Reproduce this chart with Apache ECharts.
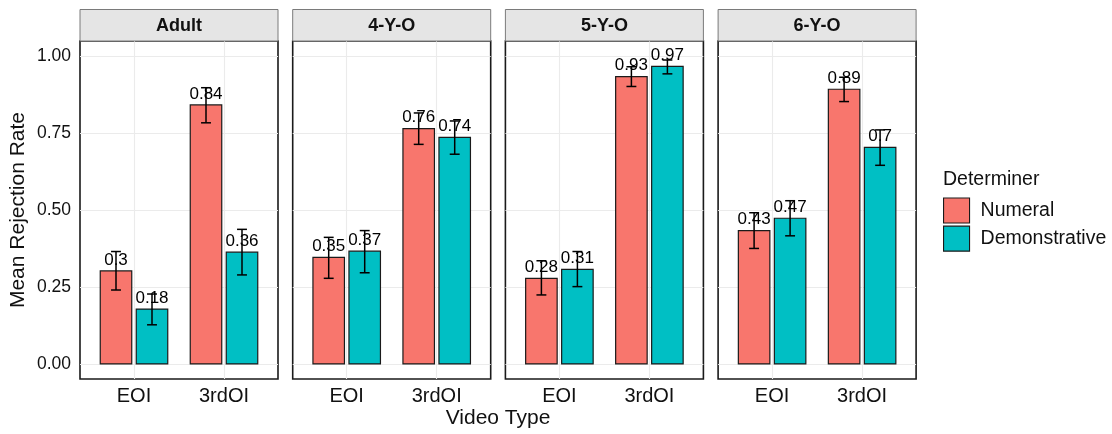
<!DOCTYPE html>
<html>
<head>
<meta charset="utf-8">
<script src="https://cdn.jsdelivr.net/npm/echarts@6/dist/echarts.min.js"></script>
<style>
html,body{margin:0;padding:0;background:#fff;}
#chart{width:1112px;height:434px;}
</style>
</head>
<body>
<div id="chart"></div>
<script>
// ---- data ----
const panels = ['Adult', '4-Y-O', '5-Y-O', '6-Y-O'];
const videoTypes = ['EOI', '3rdOI'];
const determiners = ['Numeral', 'Demonstrative'];
const yTicks = [0, 0.25, 0.5, 0.75, 1];
// per panel: [EOI, 3rdOI]
const numeralMean = [[0.302, 0.841], [0.346, 0.764], [0.278, 0.933], [0.433, 0.892]];
const numeralLow  = [[0.240, 0.783], [0.278, 0.713], [0.224, 0.901], [0.375, 0.852]];
const numeralHigh = [[0.365, 0.897], [0.411, 0.815], [0.335, 0.965], [0.491, 0.931]];
const demoMean = [[0.178, 0.363], [0.366, 0.736], [0.307, 0.966], [0.473, 0.703]];
const demoLow  = [[0.127, 0.289], [0.296, 0.681], [0.251, 0.942], [0.416, 0.645]];
const demoHigh = [[0.227, 0.437], [0.433, 0.789], [0.365, 0.987], [0.530, 0.760]];
const colors = ['#F8766D', '#00BFC4'];

// ---- layout ----
const FONT = '"Liberation Sans", Arial, Helvetica, sans-serif';
const panelLeft0 = 80, panelStep = 212.7, panelW = 198;
const panelTop = 41, panelBottomY = 379;
const stripTop = 9.5;
const dodge = 0.2, barW = 0.35, capW = 0.11;

function fmt(v) { return String(Number(v.toFixed(2))); }

const grids = [], xAxes = [], yAxes = [], series = [], graphics = [];
panels.forEach((p, i) => {
  const left = panelLeft0 + i * panelStep;
  grids.push({
    left: left, top: panelTop, width: panelW, height: panelBottomY - panelTop,
    show: true, borderColor: '#1a1a1a', borderWidth: 1.6, backgroundColor: '#fff'
  });
  xAxes.push({
    type: 'value', gridIndex: i, min: 0.4, max: 2.6,
    axisLine: { show: false },
    axisTick: { show: false, customValues: [1, 2] },
    splitLine: { show: true, lineStyle: { color: '#EBEBEB', width: 1.1 } },
    axisLabel: {
      customValues: [1, 2], margin: 7,
      fontSize: 20, color: '#111', fontFamily: FONT,
      formatter: v => videoTypes[Math.round(v) - 1]
    }
  });
  yAxes.push({
    type: 'value', gridIndex: i, min: -0.049, max: 1.0487,
    axisLine: { show: false },
    axisTick: { show: false, customValues: yTicks },
    splitLine: { show: true, lineStyle: { color: '#EBEBEB', width: 1.1 } },
    axisLabel: {
      show: i === 0, customValues: yTicks, margin: 9,
      fontSize: 17.5, color: '#111', fontFamily: FONT,
      formatter: v => v.toFixed(2)
    },
    name: i === 0 ? 'Mean Rejection Rate' : '',
    nameLocation: 'middle', nameGap: 51,
    nameTextStyle: { fontSize: 21, color: '#111', fontFamily: FONT }
  });
  // strip
  graphics.push({
    type: 'rect', z: 1,
    shape: { x: left, y: stripTop, width: panelW, height: panelTop - stripTop },
    style: { fill: '#E5E5E5', stroke: '#7a7a7a', lineWidth: 1 }
  });
  graphics.push({
    type: 'text', z: 2,
    style: { text: p, x: left + panelW / 2, y: (stripTop + panelTop) / 2 + 0.5,
      align: 'center', verticalAlign: 'middle',
      fontSize: 18, fontWeight: 'bold', fontFamily: FONT, fill: '#111' }
  });

  [[numeralMean, numeralLow, numeralHigh], [demoMean, demoLow, demoHigh]].forEach((arrs, d) => {
    const data = videoTypes.map((vt, k) => [k + 1, arrs[0][i][k], arrs[1][i][k], arrs[2][i][k]]);
    const off = d === 0 ? -dodge : dodge;
    series.push({
      type: 'custom', name: determiners[d], xAxisIndex: i, yAxisIndex: i,
      itemStyle: { color: colors[d] },
      data: data,
      renderItem: function (params, api) {
        const x = api.value(0) + off;
        const m = api.value(1), lo = api.value(2), hi = api.value(3);
        const p0 = api.coord([x - barW / 2, 0]);
        const p1 = api.coord([x + barW / 2, m]);
        const eLo = api.coord([x, lo]);
        const eHi = api.coord([x, hi]);
        const cL = api.coord([x - capW / 2, lo]);
        const cR = api.coord([x + capW / 2, hi]);
        const ls = { stroke: '#000', lineWidth: 1.5 };
        return {
          type: 'group',
          children: [
            { type: 'rect', shape: { x: p0[0], y: p1[1], width: p1[0] - p0[0], height: p0[1] - p1[1] },
              style: { fill: colors[d], stroke: '#1a1a1a', lineWidth: 1.2 } },
            { type: 'line', shape: { x1: eLo[0], y1: eLo[1], x2: eHi[0], y2: eHi[1] }, style: ls },
            { type: 'line', shape: { x1: cL[0], y1: eLo[1], x2: cR[0], y2: eLo[1] }, style: ls },
            { type: 'line', shape: { x1: cL[0], y1: eHi[1], x2: cR[0], y2: eHi[1] }, style: ls },
            { type: 'text', style: { text: fmt(m), x: (p0[0] + p1[0]) / 2, y: p1[1] - 2.5,
                align: 'center', verticalAlign: 'bottom', fontSize: 17, fontFamily: FONT, fill: '#000' } }
          ]
        };
      }
    });
  });
});

graphics.push({
  type: 'text',
  style: { text: 'Video Type', x: (panelLeft0 + panelLeft0 + 3 * panelStep + panelW) / 2, y: 418,
    align: 'center', verticalAlign: 'middle', fontSize: 21, fontFamily: FONT, fill: '#111' }
});
graphics.push({
  type: 'text',
  style: { text: 'Determiner', x: 943, y: 180,
    align: 'left', verticalAlign: 'middle', fontSize: 19.5, fontFamily: FONT, fill: '#111' }
});

const chart = echarts.init(document.getElementById('chart'), null, { renderer: 'canvas' });
chart.setOption({
  animation: false,
  backgroundColor: '#fff',
  grid: grids,
  xAxis: xAxes,
  yAxis: yAxes,
  legend: {
    data: determiners.map((n, d) => ({ name: n, itemStyle: { color: colors[d], borderColor: '#1a1a1a', borderWidth: 1.1 } })),
    orient: 'vertical', left: 943, top: 197.5, padding: 0,
    itemWidth: 26, itemHeight: 25, itemGap: 2, icon: 'rect', selectedMode: false,
    textStyle: { fontSize: 19.5, fontFamily: FONT, color: '#111', padding: [0, 0, 0, 6] }
  },
  graphic: graphics,
  series: series
});
</script>
</body>
</html>
